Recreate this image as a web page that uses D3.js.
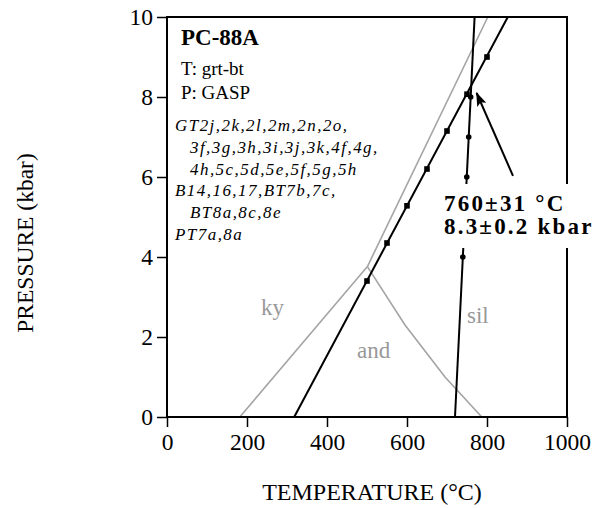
<!DOCTYPE html>
<html>
<head>
<meta charset="utf-8">
<script src="https://cdn.jsdelivr.net/npm/d3@7"></script>
<style>
  html, body { margin: 0; padding: 0; background: #fff; }
  svg text { font-family: "Liberation Serif", "Times New Roman", serif; }
</style>
</head>
<body>
<svg id="chart" width="597" height="508"></svg>
<script>
// Axis ticks
const xTicks = [0, 200, 400, 600, 800, 1000];
const yTicks = [0, 2, 4, 6, 8, 10];

// Al2SiO5 phase boundaries [T °C, P kbar]
const kyAnd = [[182, 0], [501, 3.76]];
const kySil = [[501, 3.76], [802, 10]];
const andSil = [[501, 3.76], [595, 2.3], [695, 1.0], [787, 0]];

// Equilibrium lines
const gaspLine = [[318, 0], [852, 10]];
const grtBtLine = [[720, 0], [769, 10]];

// GASP pressures computed at fixed temperatures
const gaspT = [500, 550, 600, 650, 700, 750, 800];
const gaspP = [3.4, 4.35, 5.28, 6.2, 7.15, 8.07, 9.0];

// Garnet-biotite temperatures computed at fixed pressures
const grtBtP = [4, 6, 7, 8];
const grtBtT = [739.6, 749.4, 754.3, 759.2];

// Arrow from the result label to the intersection
const arrowPts = [[865, 6.03], [774, 8.1]];

// Field labels
const fieldNames = ["ky", "and", "sil"];
const fieldT = [235, 475, 750];
const fieldP = [2.55, 1.48, 2.35];

const sampleName = "PC-88A";
const methodLines = ["T: grt-bt", "P: GASP"];
const analysisLines = [
  "GT2j,2k,2l,2m,2n,2o,",
  "3f,3g,3h,3i,3j,3k,4f,4g,",
  "4h,5c,5d,5e,5f,5g,5h",
  "B14,16,17,BT7b,7c,",
  "BT8a,8c,8e",
  "PT7a,8a"
];
const analysisIndent = [0, 1, 1, 0, 1, 0];
const resultLines = ["760\u00b131 \u00b0C", "8.3\u00b10.2 kbar"];

const svg = d3.select("#chart");
const x = d3.scaleLinear().domain([0, 1000]).range([167, 567]);
const y = d3.scaleLinear().domain([0, 10]).range([417, 17]);
const gray = "#a4a4a4";

const line = d3.line().x(d => x(d[0])).y(d => y(d[1]));

// Phase boundaries
[kyAnd, kySil, andSil].forEach(seg => {
  svg.append("path").attr("d", line(seg))
    .attr("fill", "none").attr("stroke", gray).attr("stroke-width", 1.6);
});

// Equilibrium lines
[gaspLine, grtBtLine].forEach(seg => {
  svg.append("path").attr("d", line(seg))
    .attr("fill", "none").attr("stroke", "#000").attr("stroke-width", 2);
});

// GASP markers (squares)
svg.selectAll("rect.gasp").data(gaspT.map((t, i) => [t, gaspP[i]]))
  .enter().append("rect").attr("class", "gasp")
  .attr("x", d => x(d[0]) - 2.8).attr("y", d => y(d[1]) - 2.8)
  .attr("width", 5.6).attr("height", 5.6).attr("fill", "#000");

// grt-bt markers (dots)
svg.selectAll("circle.grtbt").data(grtBtP.map((p, i) => [grtBtT[i], p]))
  .enter().append("circle").attr("class", "grtbt")
  .attr("cx", d => x(d[0])).attr("cy", d => y(d[1]))
  .attr("r", 2.8).attr("fill", "#000");

// Arrow
const defs = svg.append("defs");
defs.append("marker").attr("id", "head")
  .attr("viewBox", "0 0 14 10").attr("refX", 13).attr("refY", 5)
  .attr("markerWidth", 14).attr("markerHeight", 10)
  .attr("markerUnits", "userSpaceOnUse").attr("orient", "auto")
  .append("path").attr("d", "M0,0 L14,5 L0,10 L3,5 Z").attr("fill", "#000");
svg.append("path").attr("d", line(arrowPts))
  .attr("stroke", "#000").attr("stroke-width", 2).attr("fill", "none")
  .attr("marker-end", "url(#head)");

// Field labels
svg.selectAll("text.field").data(fieldNames).enter().append("text")
  .attr("class", "field")
  .attr("x", (d, i) => x(fieldT[i])).attr("y", (d, i) => y(fieldP[i]))
  .attr("fill", "#999").attr("font-size", 23).text(d => d);

// Frame
svg.append("rect").attr("x", 167).attr("y", 17).attr("width", 400).attr("height", 400)
  .attr("fill", "none").attr("stroke", "#000").attr("stroke-width", 2);

// Result label on a white box
svg.append("rect").attr("x", 441).attr("y", 184).attr("width", 156).attr("height", 64)
  .attr("fill", "#fff");
svg.selectAll("text.result").data(resultLines).enter().append("text")
  .attr("class", "result")
  .attr("x", 444).attr("y", (d, i) => 210.5 + i * 23)
  .attr("font-size", 23).attr("font-weight", "bold")
  .attr("letter-spacing", 2.2).text(d => d);

// Axes
const xAxis = d3.axisBottom(x).tickValues(xTicks).tickSize(10).tickPadding(6)
  .tickFormat(d3.format("d"));
const gx = svg.append("g").attr("transform", "translate(0,417)").call(xAxis);
const yAxis = d3.axisLeft(y).tickValues(yTicks).tickSize(10).tickPadding(4)
  .tickFormat(d3.format("d"));
const gy = svg.append("g").attr("transform", "translate(167,0)").call(yAxis);
[gx, gy].forEach(g => {
  g.select(".domain").remove();
  g.selectAll(".tick line").attr("stroke", "#000").attr("stroke-width", 1.5);
  g.selectAll(".tick text").attr("fill", "#000")
    .style("font-family", '"Liberation Serif", "Times New Roman", serif')
    .attr("font-size", 23.5);
});

// Axis titles
svg.append("text").attr("x", 372).attr("y", 500).attr("text-anchor", "middle")
  .attr("font-size", 24).text("TEMPERATURE (\u00b0C)");
svg.append("text").attr("transform", "translate(33,243) rotate(-90)")
  .attr("text-anchor", "middle").attr("font-size", 23.5).text("PRESSURE (kbar)");

// Sample block
svg.append("text").attr("x", 181).attr("y", 45).attr("font-size", 23)
  .attr("font-weight", "bold").text(sampleName);
svg.selectAll("text.method").data(methodLines).enter().append("text")
  .attr("class", "method").attr("x", 181).attr("y", (d, i) => 75 + i * 24.3)
  .attr("font-size", 19).text(d => d);
svg.selectAll("text.analysis").data(analysisLines).enter().append("text")
  .attr("class", "analysis")
  .attr("x", (d, i) => analysisIndent[i] ? 190 : 175)
  .attr("y", (d, i) => 131 + i * 21.8)
  .attr("font-size", 17).attr("font-style", "italic")
  .attr("letter-spacing", 1.45).text(d => d);
</script>
</body>
</html>
